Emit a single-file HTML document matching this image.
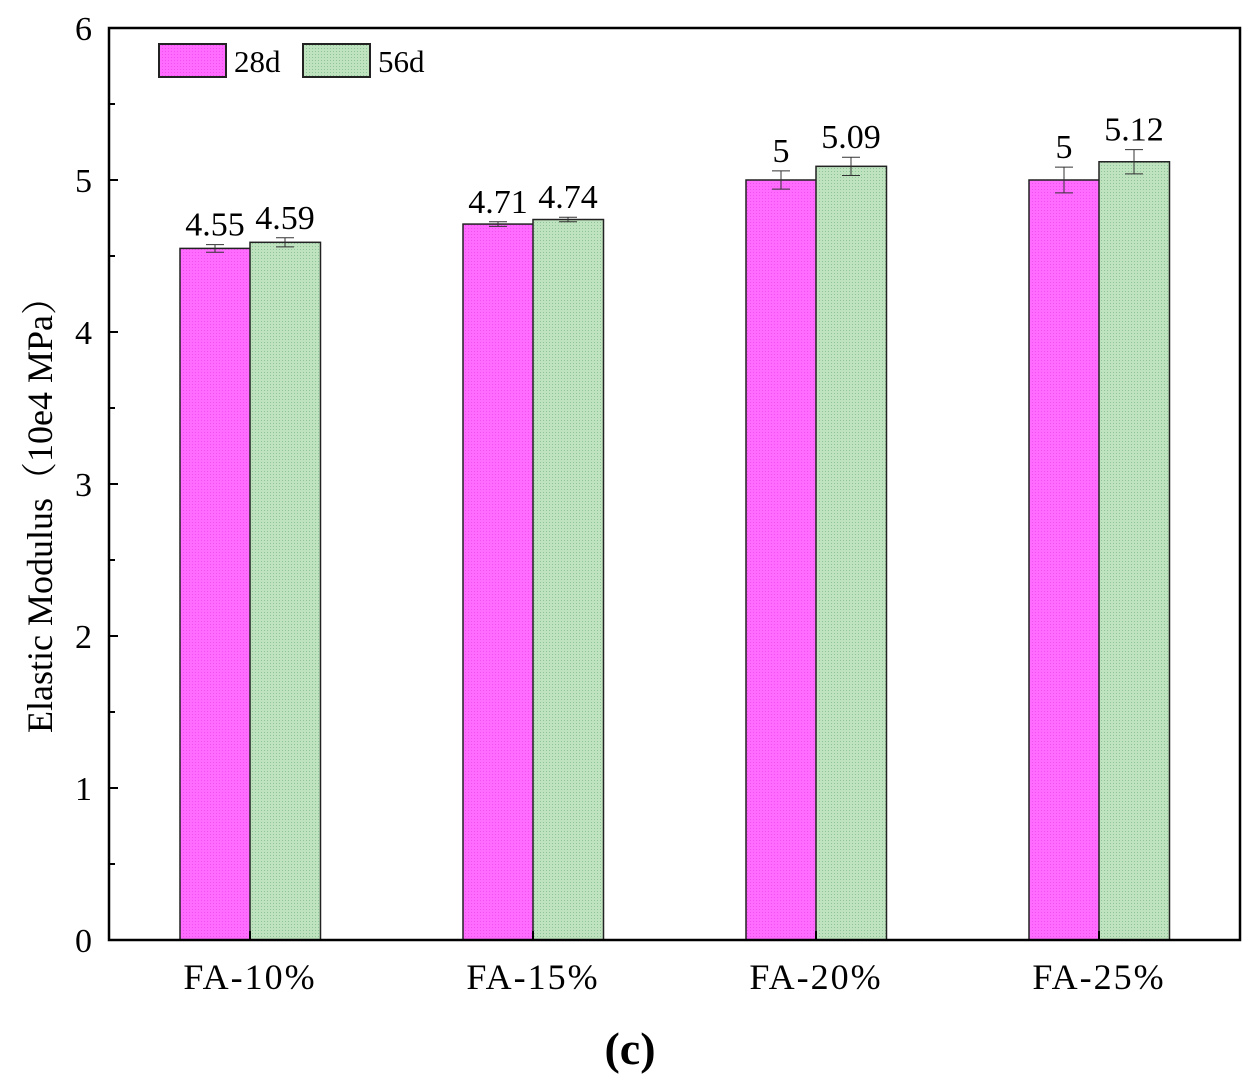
<!DOCTYPE html>
<html><head><meta charset="utf-8"><style>body{margin:0;background:#fff}svg{display:block;font-family:"Liberation Serif","Noto Serif CJK SC",serif}</style></head>
<body>
<svg id="chart" width="1255" height="1087">
<defs>
<pattern id="pm" width="3" height="3" patternUnits="userSpaceOnUse"><rect width="3" height="3" fill="#ff6cff"/><rect width="1" height="1" fill="#f050f0"/></pattern>
<pattern id="pg" width="3" height="3" patternUnits="userSpaceOnUse"><rect width="3" height="3" fill="#bfe3bf"/><rect width="1" height="1" fill="#8fc39a"/></pattern>
</defs>
<g id="marks"></g>
<rect x="109" y="28" width="1131" height="912" fill="none" stroke="#000" stroke-width="2.5"/>
<g id="axes"></g>
<text transform="translate(52,506) rotate(-90)" text-anchor="middle" font-size="36">Elastic Modulus（10e4 MPa）</text>
<rect x="159" y="44" width="67" height="33" fill="url(#pm)" stroke="#222" stroke-width="2"/>
<text x="234" y="72" font-size="31">28d</text>
<rect x="303" y="44" width="67" height="33" fill="url(#pg)" stroke="#222" stroke-width="2"/>
<text x="378" y="72" font-size="31">56d</text>
<text x="630" y="1064" text-anchor="middle" font-size="46" font-weight="bold">(c)</text>
</svg>
<script>
const categories=["FA-10%","FA-15%","FA-20%","FA-25%"];
const s28=[4.55,4.71,5.00,5.00];
const s56=[4.59,4.74,5.09,5.12];
const e28=[0.025,0.015,0.06,0.085];
const e56=[0.03,0.015,0.06,0.08];
const l28=["4.55","4.71","5","5"];
const l56=["4.59","4.74","5.09","5.12"];
const yTicks=[0,1,2,3,4,5,6];
const NS="http://www.w3.org/2000/svg";
const y=v=>940-v*152;
const xc=i=>250+i*283;
const g=document.getElementById('marks'),ax=document.getElementById('axes');
function mk(tag,at,p){const e=document.createElementNS(NS,tag);for(const k in at)e.setAttribute(k,at[k]);p.appendChild(e);return e;}
function series(vals,errs,labs,off,fill,nm){
vals.forEach((v,i)=>{
const x0=xc(i)+off;
const r=mk('rect',{x:x0,y:y(v),width:70.5,height:940-y(v),fill:fill,stroke:'#222','stroke-width':1.5},g);


const cx=x0+35,t=y(v+errs[i]),b=y(v-errs[i]);
const eb=mk('path',{d:`M${cx},${t}V${b}M${cx-9},${t}H${cx+9}M${cx-9},${b}H${cx+9}`,stroke:'#333','stroke-width':1,fill:'none'},g);


const tx=mk('text',{x:cx,y:y(v+errs[i])-9,'text-anchor':'middle','font-size':34},g);tx.textContent=labs[i];


});}
series(s28,e28,l28,-70,'url(#pm)','28d');
series(s56,e56,l56,0,'url(#pg)','56d');
yTicks.forEach(v=>{
const tk=mk('line',{x1:109,x2:118,y1:y(v),y2:y(v),stroke:'#000','stroke-width':2},ax);


if(v<6){const m=mk('line',{x1:109,x2:115,y1:y(v+0.5),y2:y(v+0.5),stroke:'#000','stroke-width':2},ax);

}
const t=mk('text',{x:92,y:y(v)+12,'text-anchor':'end','font-size':34},ax);t.textContent=v;


});
categories.forEach((c,i)=>{
const tk=mk('line',{x1:xc(i),x2:xc(i),y1:940,y2:931,stroke:'#000','stroke-width':2},ax);


const t=mk('text',{x:xc(i),y:989,'text-anchor':'middle','font-size':36,'letter-spacing':2},ax);t.textContent=c;


});
</script>
</body></html>
